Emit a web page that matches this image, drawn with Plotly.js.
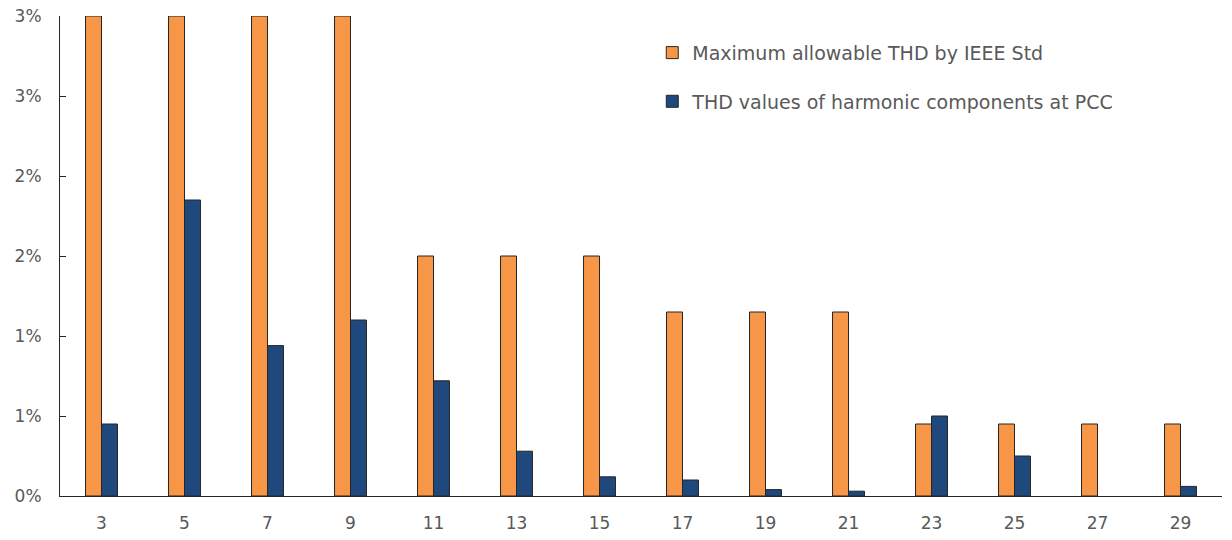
<!DOCTYPE html>
<html>
<head>
<meta charset="utf-8">
<script src="https://cdn.plot.ly/plotly-3.0.1.min.js"></script>
<style>html,body{margin:0;padding:0;background:#fff;}#chart{width:1232px;height:540px;}</style>
</head>
<body>
<div id="chart"></div>
<script>
const harmonics = ['3','5','7','9','11','13','15','17','19','21','23','25','27','29'];
const maxAllowable = [3, 3, 3, 3, 1.5, 1.5, 1.5, 1.15, 1.15, 1.15, 0.45, 0.45, 0.45, 0.45];
const measuredTHD = [0.45, 1.85, 0.94, 1.1, 0.72, 0.28, 0.12, 0.1, 0.04, 0.03, 0.5, 0.25, null, 0.06];
const yTickVals = [0, 0.5, 1, 1.5, 2, 2.5, 3];
const yTickText = ['0%', '1%', '1%', '2%', '2%', '3%', '3%'];

const FONT = 'DejaVu Sans, sans-serif';
const outline = {color: '#262626', width: 1};

const traces = [
  {type: 'bar', name: 'Maximum allowable THD by IEEE Std', x: harmonics, y: maxAllowable,
   marker: {color: '#F79646', line: outline}, legendgroup: 'a'},
  {type: 'bar', name: 'THD values of harmonic components at PCC', x: harmonics, y: measuredTHD,
   marker: {color: '#1F497D', line: outline}, legendgroup: 'b'}
];

const layout = {
  width: 1232, height: 540,
  margin: {l: 60, r: 10, t: 16, b: 44},
  paper_bgcolor: '#fff', plot_bgcolor: '#fff',
  font: {family: FONT, size: 17, color: '#595959'},
  barmode: 'group', bargap: 0.615, bargroupgap: 0,
  showlegend: true,
  legend: {x: 0.5097, y: 0.963, xanchor: 'left', yanchor: 'top', bgcolor: 'rgba(0,0,0,0)',
           font: {family: FONT, size: 19, color: '#595959'}, tracegroupgap: 21, traceorder: 'grouped'},
  xaxis: {type: 'category', showgrid: false, zeroline: false, showline: true, linecolor: '#262626', linewidth: 1,
          ticks: '', ticklabelstandoff: 12, tickfont: {family: FONT, size: 17, color: '#595959'}},
  yaxis: {range: [0, 3], showgrid: false, zeroline: false, showline: true, linecolor: '#262626', linewidth: 1,
          ticks: 'inside', ticklen: 6, tickcolor: '#262626', tickvals: yTickVals, ticktext: yTickText,
          ticklabelstandoff: 14, tickfont: {family: FONT, size: 17, color: '#595959'}}
};

Plotly.newPlot('chart', traces, layout, {displayModeBar: false, staticPlot: true});
</script>
</body>
</html>
